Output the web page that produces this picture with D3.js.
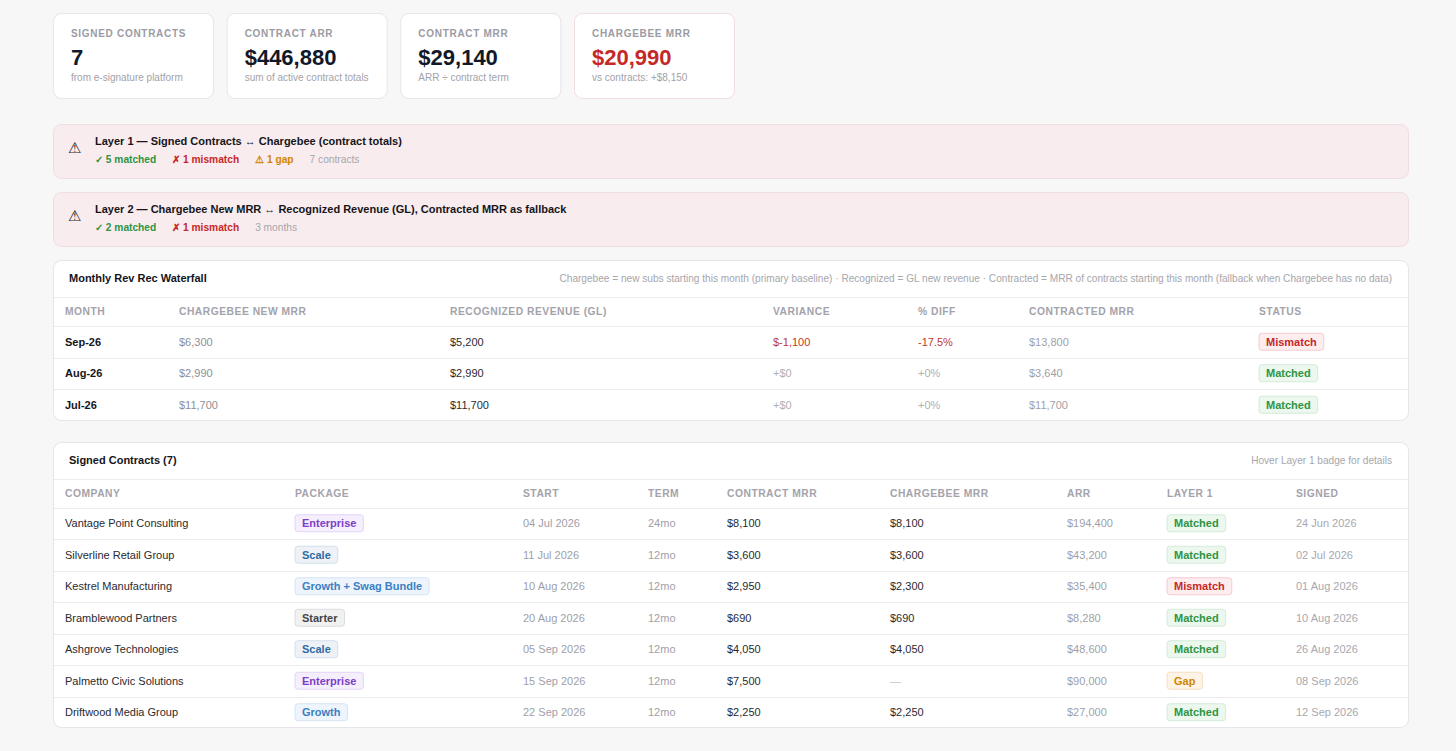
<!DOCTYPE html>
<html>
<head>
<meta charset="utf-8">
<script src="https://cdn.jsdelivr.net/npm/d3@7"></script>
<style>
  html, body { margin: 0; padding: 0; background: #f7f7f8; }
  svg { display: block; font-family: "Liberation Sans", Arial, sans-serif; }
  .lbl { font-size: 10px; font-weight: 700; fill: #9b9ba3; letter-spacing: 0.7px; }
  .th { font-size: 10.3px; font-weight: 700; fill: #a3a3ab; letter-spacing: 0.5px; }
  .td { font-size: 11px; }
</style>
</head>
<body>
<svg id="chart" width="1456" height="751"></svg>
<script>
// ---- data ----
const months = ["Sep-26", "Aug-26", "Jul-26"];
const chargebeeNewMrr = [6300, 2990, 11700];
const recognizedRevenue = [5200, 2990, 11700];
const contractedMrr = [13800, 3640, 11700];
const waterfallStatus = ["Mismatch", "Matched", "Matched"];

const companies = ["Vantage Point Consulting", "Silverline Retail Group", "Kestrel Manufacturing",
  "Bramblewood Partners", "Ashgrove Technologies", "Palmetto Civic Solutions", "Driftwood Media Group"];
const packages = ["Enterprise", "Scale", "Growth + Swag Bundle", "Starter", "Scale", "Enterprise", "Growth"];
const startDates = ["04 Jul 2026", "11 Jul 2026", "10 Aug 2026", "20 Aug 2026", "05 Sep 2026", "15 Sep 2026", "22 Sep 2026"];
const termMonths = [24, 12, 12, 12, 12, 12, 12];
const contractMrr = [8100, 3600, 2950, 690, 4050, 7500, 2250];
const chargebeeMrr = [8100, 3600, 2300, 690, 4050, null, 2250];
const arrValues = [194400, 43200, 35400, 8280, 48600, 90000, 27000];
const layer1Status = ["Matched", "Matched", "Mismatch", "Matched", "Matched", "Gap", "Matched"];
const signedDates = ["24 Jun 2026", "02 Jul 2026", "01 Aug 2026", "10 Aug 2026", "26 Aug 2026", "08 Sep 2026", "12 Sep 2026"];

const waterfallHeaders = ["Month", "Chargebee New MRR", "Recognized Revenue (GL)", "Variance", "% Diff", "Contracted MRR", "Status"];
const contractHeaders = ["Company", "Package", "Start", "Term", "Contract MRR", "Chargebee MRR", "ARR", "Layer 1", "Signed"];

// ---- helpers ----
const locale = d3.formatLocale({ decimal: ".", thousands: ",", grouping: [3], currency: ["$", ""], minus: "-" });
const fmt = locale.format(",");
const pctFmt = locale.format(".1f");
const money = (v) => "$" + fmt(v);
const svg = d3.select("#chart");

const badgeStyles = {
  Matched: { fill: "#ecf7ee", stroke: "#d3eada", text: "#2e9443" },
  Mismatch: { fill: "#fdedef", stroke: "#f4cbd0", text: "#c62828" },
  Gap: { fill: "#fdf3e6", stroke: "#f5dfc2", text: "#d18500" },
  Enterprise: { fill: "#f5eefd", stroke: "#e3d4f6", text: "#7b3fc8" },
  Scale: { fill: "#eef2f7", stroke: "#d3dfeb", text: "#2f6aa3" },
  "Growth + Swag Bundle": { fill: "#eef4fb", stroke: "#d6e4f3", text: "#3a80c2" },
  Growth: { fill: "#eef4fb", stroke: "#d6e4f3", text: "#3a80c2" },
  Starter: { fill: "#f1f1f2", stroke: "#dcdcdf", text: "#444448" }
};

function badge(g, x, y, label) {
  const s = badgeStyles[label];
  const b = g.append("g");
  const t = b.append("text")
    .attr("x", x + 7).attr("y", y).attr("dy", "0.36em")
    .attr("font-size", 11).attr("font-weight", 700)
    .attr("fill", s.text).text(label);
  const w = t.node().getComputedTextLength();
  b.insert("rect", "text")
    .attr("x", x).attr("y", y - 8.5)
    .attr("width", w + 14).attr("height", 17)
    .attr("rx", 3)
    .attr("fill", s.fill).attr("stroke", s.stroke);
}

function card(x, y, w, h, stroke) {
  return svg.append("rect")
    .attr("x", x + 0.5).attr("y", y + 0.5)
    .attr("width", w).attr("height", h)
    .attr("rx", 8)
    .attr("fill", "#fff")
    .attr("stroke", stroke || "#e5e5ea");
}

// ---- KPI cards ----
const layer1Counts = d3.rollup(layer1Status, (v) => v.length, (d) => d);
const totalArr = d3.sum(arrValues);
const totalContractMrr = d3.sum(contractMrr);
const totalChargebeeMrr = d3.sum(chargebeeMrr);

const kpiLabels = ["SIGNED CONTRACTS", "CONTRACT ARR", "CONTRACT MRR", "CHARGEBEE MRR"];
const kpiValues = [String(companies.length), money(totalArr), money(totalContractMrr), money(totalChargebeeMrr)];
const kpiSubs = ["from e-signature platform", "sum of active contract totals", "ARR ÷ contract term",
  "vs contracts: +" + money(totalContractMrr - totalChargebeeMrr)];
const kpiColors = ["#111827", "#111827", "#111827", "#c62828"];

const kpiX = d3.scaleBand().domain(d3.range(4)).range([53, 734]).paddingInner(0.0787).paddingOuter(0);
kpiLabels.forEach((label, i) => {
  const x0 = kpiX(i);
  card(x0, 13, kpiX.bandwidth(), 85, i === 3 ? "#f1dcdf" : "#e5e5ea");
  svg.append("text").attr("class", "lbl").attr("x", x0 + 18).attr("y", 37).text(label);
  svg.append("text").attr("x", x0 + 18).attr("y", 65)
    .attr("font-size", 22).attr("font-weight", 700).attr("fill", kpiColors[i]).text(kpiValues[i]);
  svg.append("text").attr("x", x0 + 18).attr("y", 81)
    .attr("font-size", 10).attr("fill", "#a2a2aa").text(kpiSubs[i]);
});

// ---- layer banners ----
const wfCounts = d3.rollup(waterfallStatus, (v) => v.length, (d) => d);
const banners = [
  {
    y: 124,
    title: "Layer 1 — Signed Contracts ↔ Chargebee (contract totals)",
    stats: [
      { t: "✓ " + (layer1Counts.get("Matched") || 0) + " matched", c: "#2e9443", b: true },
      { t: "✗ " + (layer1Counts.get("Mismatch") || 0) + " mismatch", c: "#c62828", b: true },
      { t: "⚠ " + (layer1Counts.get("Gap") || 0) + " gap", c: "#d18500", b: true },
      { t: companies.length + " contracts", c: "#a6a6ad", b: false }
    ]
  },
  {
    y: 192,
    title: "Layer 2 — Chargebee New MRR ↔ Recognized Revenue (GL), Contracted MRR as fallback",
    stats: [
      { t: "✓ " + (wfCounts.get("Matched") || 0) + " matched", c: "#2e9443", b: true },
      { t: "✗ " + (wfCounts.get("Mismatch") || 0) + " mismatch", c: "#c62828", b: true },
      { t: months.length + " months", c: "#a6a6ad", b: false }
    ]
  }
];
banners.forEach((bn) => {
  svg.append("rect")
    .attr("x", 53.5).attr("y", bn.y + 0.5).attr("width", 1355).attr("height", 54).attr("rx", 8)
    .attr("fill", "#f9ecee").attr("stroke", "#f0dde0");
  svg.append("text").attr("x", 68).attr("y", bn.y + 29)
    .attr("font-family", "DejaVu Sans").attr("font-size", 15).attr("fill", "#222").text("⚠");
  svg.append("text").attr("x", 95).attr("y", bn.y + 21)
    .attr("font-size", 11).attr("font-weight", 700).attr("fill", "#15151a").text(bn.title);
  let sx = 95;
  bn.stats.forEach((s) => {
    const t = svg.append("text").attr("x", sx).attr("y", bn.y + 39)
      .attr("font-size", 10.2).attr("font-weight", s.b ? 700 : 400).attr("fill", s.c).text(s.t);
    sx += t.node().getComputedTextLength() + 16;
  });
});

// ---- table builder ----
function tableCard(y0, h, title, note, headers, colX, headerY, rowRange, rows) {
  card(53, y0, 1355, h);
  svg.append("text").attr("x", 69).attr("y", y0 + 22)
    .attr("font-size", 11).attr("font-weight", 700).attr("fill", "#15151a").text(title);
  svg.append("text").attr("x", 1392).attr("y", y0 + 22).attr("text-anchor", "end")
    .attr("font-size", 10.1).attr("fill", "#a6a6ad").text(note);
  svg.append("line").attr("x1", 54).attr("x2", 1408).attr("y1", y0 + 37.5).attr("y2", y0 + 37.5)
    .attr("stroke", "#ececef");

  const x = d3.scaleOrdinal().domain(headers).range(colX);
  headers.forEach((hd) => {
    svg.append("text").attr("class", "th").attr("x", x(hd)).attr("y", headerY).attr("dy", "0.36em")
      .text(hd.toUpperCase());
  });

  const y = d3.scaleBand().domain(d3.range(rows.length)).range(rowRange);
  const g = svg.append("g");
  g.selectAll("line.sep")
    .data(d3.range(rows.length))
    .join("line")
    .attr("class", "sep")
    .attr("x1", 54).attr("x2", 1408)
    .attr("y1", (d) => Math.round(y(d)) + 0.5).attr("y2", (d) => Math.round(y(d)) + 0.5)
    .attr("stroke", "#ececef");

  rows.forEach((cells, i) => {
    const cy = y(i) + y.bandwidth() / 2;
    cells.forEach((c, j) => {
      if (c.badge) {
        badge(g, x(headers[j]), cy, c.badge);
      } else {
        g.append("text").attr("class", "td").attr("x", x(headers[j])).attr("y", cy).attr("dy", "0.36em")
          .attr("font-weight", c.bold ? 700 : 400).attr("fill", c.color).text(c.text);
      }
    });
  });
}

// ---- waterfall table ----
const waterfallRows = months.map((m, i) => {
  const variance = recognizedRevenue[i] - chargebeeNewMrr[i];
  const pct = variance / chargebeeNewMrr[i] * 100;
  const off = variance !== 0;
  return [
    { text: m, bold: true, color: "#15151a" },
    { text: money(chargebeeNewMrr[i]), color: "#8e8e96" },
    { text: money(recognizedRevenue[i]), color: "#2a2a30" },
    { text: variance < 0 ? "$" + fmt(variance) : "+$" + fmt(variance), color: off ? "#c0392b" : "#b0b0b7" },
    { text: off ? pctFmt(pct) + "%" : "+0%", color: off ? "#c0392b" : "#b0b0b7" },
    { text: money(contractedMrr[i]), color: "#a0a0a8" },
    { badge: waterfallStatus[i] }
  ];
});
tableCard(260, 160, "Monthly Rev Rec Waterfall",
  "Chargebee = new subs starting this month (primary baseline) · Recognized = GL new revenue · Contracted = MRR of contracts starting this month (fallback when Chargebee has no data)",
  waterfallHeaders, [65, 179, 450, 773, 918, 1029, 1259], 311, [326, 420.5], waterfallRows);

// ---- signed contracts table ----
const contractRows = companies.map((c, i) => [
  { text: c, color: "#2a2a30" },
  { badge: packages[i] },
  { text: startDates[i], color: "#a0a0a8" },
  { text: termMonths[i] + "mo", color: "#a0a0a8" },
  { text: money(contractMrr[i]), color: "#2a2a30" },
  { text: chargebeeMrr[i] == null ? "—" : money(chargebeeMrr[i]), color: chargebeeMrr[i] == null ? "#c4c4ca" : "#2a2a30" },
  { text: money(arrValues[i]), color: "#a0a0a8" },
  { badge: layer1Status[i] },
  { text: signedDates[i], color: "#a8a8b0" }
]);
tableCard(442, 285, "Signed Contracts (" + companies.length + ")", "Hover Layer 1 badge for details",
  contractHeaders, [65, 295, 523, 648, 727, 890, 1067, 1167, 1296], 493, [507.5, 728], contractRows);
</script>
</body>
</html>
